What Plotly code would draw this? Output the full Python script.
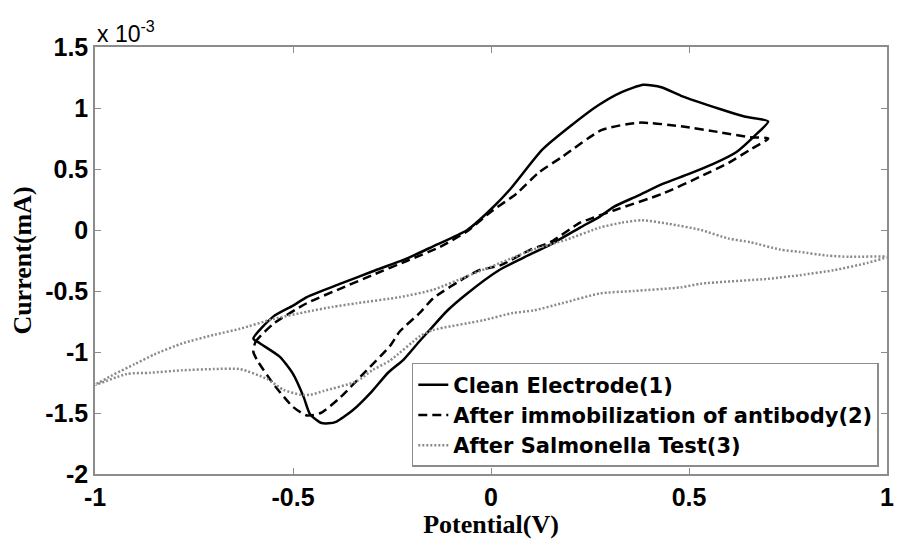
import plotly.graph_objects as go

# ---- data (current in units of 1e-3 mA) ----
clean_v = [-0.60, -0.55, -0.50, -0.465, -0.38, -0.30, -0.21, -0.15, -0.06, 0.00, 0.05, 0.13, 0.20,
           0.27, 0.33, 0.385, 0.43, 0.48, 0.58, 0.64, 0.70,
           0.665, 0.62, 0.56, 0.50, 0.435, 0.37, 0.31, 0.275, 0.225, 0.15, 0.08, 0.02, -0.06, -0.11,
           -0.155, -0.18, -0.22, -0.26, -0.30, -0.35, -0.39, -0.41, -0.43, -0.457, -0.473, -0.50,
           -0.533, -0.583, -0.60]
clean_i = [-0.89, -0.71, -0.62, -0.55, -0.44, -0.34, -0.23, -0.14, 0.00, 0.17, 0.34, 0.66, 0.85,
           1.02, 1.13, 1.19, 1.17, 1.10, 0.99, 0.93, 0.89,
           0.77, 0.64, 0.54, 0.46, 0.38, 0.28, 0.19, 0.11, 0.02, -0.12, -0.23, -0.33, -0.52, -0.66,
           -0.82, -0.91, -1.06, -1.17, -1.32, -1.48, -1.57, -1.585, -1.58, -1.51, -1.37, -1.18,
           -1.04, -0.93, -0.89]

antibody_v = [-0.60, -0.595, -0.55, -0.465, -0.38, -0.30, -0.21, -0.13, -0.06, 0.00, 0.065, 0.12, 0.18,
              0.28, 0.375, 0.48, 0.58, 0.655, 0.70,
              0.655, 0.60, 0.53, 0.435, 0.31, 0.258, 0.225, 0.15, 0.10, 0.023, -0.03, -0.06, -0.146,
              -0.18, -0.23, -0.255, -0.314, -0.38, -0.43, -0.465, -0.50, -0.55, -0.59, -0.60]
antibody_i = [-1.00, -0.92, -0.77, -0.60, -0.48, -0.37, -0.25, -0.14, -0.01, 0.15, 0.30, 0.47, 0.60,
              0.82, 0.88, 0.85, 0.80, 0.76, 0.75,
              0.66, 0.55, 0.44, 0.30, 0.16, 0.10, 0.06, -0.10, -0.16, -0.29, -0.33, -0.38, -0.56,
              -0.68, -0.83, -0.95, -1.15, -1.37, -1.50, -1.52, -1.45, -1.26, -1.07, -1.00]

salmonella_v = [-1.00, -0.95, -0.90, -0.85, -0.78, -0.70, -0.634, -0.55, -0.465, -0.40, -0.339, -0.23,
                -0.146, -0.061, 0.023, 0.107, 0.19, 0.275, 0.33, 0.38, 0.45, 0.53, 0.60, 0.655, 0.73,
                0.78, 0.85, 0.905, 1.00,
                0.95, 0.865, 0.78, 0.70, 0.53, 0.48, 0.36, 0.275, 0.18, 0.107, 0.055, -0.02, -0.146,
                -0.179, -0.255, -0.30, -0.339, -0.423, -0.455, -0.482, -0.524, -0.566, -0.634, -0.70,
                -0.78, -0.86, -0.92, -1.00]
salmonella_i = [-1.27, -1.18, -1.10, -1.02, -0.93, -0.86, -0.81, -0.73, -0.67, -0.63, -0.60, -0.55,
                -0.49, -0.38, -0.27, -0.16, -0.08, 0.02, 0.06, 0.08, 0.05, 0.00, -0.07, -0.10, -0.16,
                -0.18, -0.21, -0.22, -0.22,
                -0.27, -0.33, -0.37, -0.40, -0.44, -0.47, -0.50, -0.52, -0.60, -0.66, -0.68, -0.74, -0.82,
                -0.87, -1.07, -1.15, -1.24, -1.32, -1.35, -1.35, -1.31, -1.22, -1.14, -1.14,
                -1.15, -1.17, -1.18, -1.27]

series_names = ["Clean Electrode(1)", "After immobilization of antibody(2)", "After Salmonella Test(3)"]

x_ticks = [-1, -0.5, 0, 0.5, 1]
x_tick_text = ["-1", "-0.5", "0", "0.5", "1"]
y_ticks = [-2, -1.5, -1, -0.5, 0, 0.5, 1, 1.5]
y_tick_text = ["-2", "-1.5", "-1", "-0.5", "0", "0.5", "1", "1.5"]

sans = "Liberation Sans, Arial, sans-serif"
wide_sans = "DejaVu Sans, Verdana, sans-serif"
serif = "Liberation Serif, Times New Roman, serif"

fig = go.Figure()
fig.add_trace(go.Scatter(x=clean_v, y=clean_i, mode="lines", name=series_names[0],
                         line=dict(color="black", width=2.5, shape="spline", smoothing=0.6)))
fig.add_trace(go.Scatter(x=antibody_v, y=antibody_i, mode="lines", name=series_names[1],
                         line=dict(color="black", width=2.5, dash="9px,5px", shape="spline", smoothing=0.6)))
fig.add_trace(go.Scatter(x=salmonella_v, y=salmonella_i, mode="lines", name=series_names[2],
                         line=dict(color="#8a8a8a", width=2.5, dash="2px,2px", shape="spline", smoothing=0.6)))

axis_common = dict(
    showline=True, linecolor="#8c8c8c", linewidth=1.5, mirror="allticks",
    ticks="inside", ticklen=6, tickcolor="#8c8c8c", tickwidth=1.2,
    showgrid=False, zeroline=False,
    tickfont=dict(family=sans, size=25, color="black", weight="bold"),
)

fig.update_xaxes(range=[-1, 1], tickvals=x_ticks, ticktext=x_tick_text,
                 title=dict(text="Potential(V)", standoff=2,
                            font=dict(family=serif, size=26, color="black", weight="bold")),
                 **axis_common)
fig.update_yaxes(range=[-2, 1.5], tickvals=y_ticks, ticktext=y_tick_text,
                 title=dict(text="Current(mA)", standoff=6,
                            font=dict(family=serif, size=26, color="black", weight="bold")),
                 **axis_common)

fig.add_annotation(xref="paper", yref="paper", x=0, y=1, xanchor="left", yanchor="bottom",
                   text="x 10<sup>-3</sup>", showarrow=False,
                   font=dict(family=sans, size=23, color="black"), yshift=-2)

fig.update_layout(
    width=909, height=539,
    margin=dict(l=95, r=22, t=47, b=65, autoexpand=False),
    plot_bgcolor="white", paper_bgcolor="white",
    legend=dict(x=0.40, y=0.26, xanchor="left", yanchor="top",
                bgcolor="white", bordercolor="#8c8c8c", borderwidth=1.5,
                font=dict(family=wide_sans, size=21, color="black", weight="bold"),
                tracegroupgap=0, itemwidth=30),
    showlegend=True,
)

fig.write_html("out.html")
